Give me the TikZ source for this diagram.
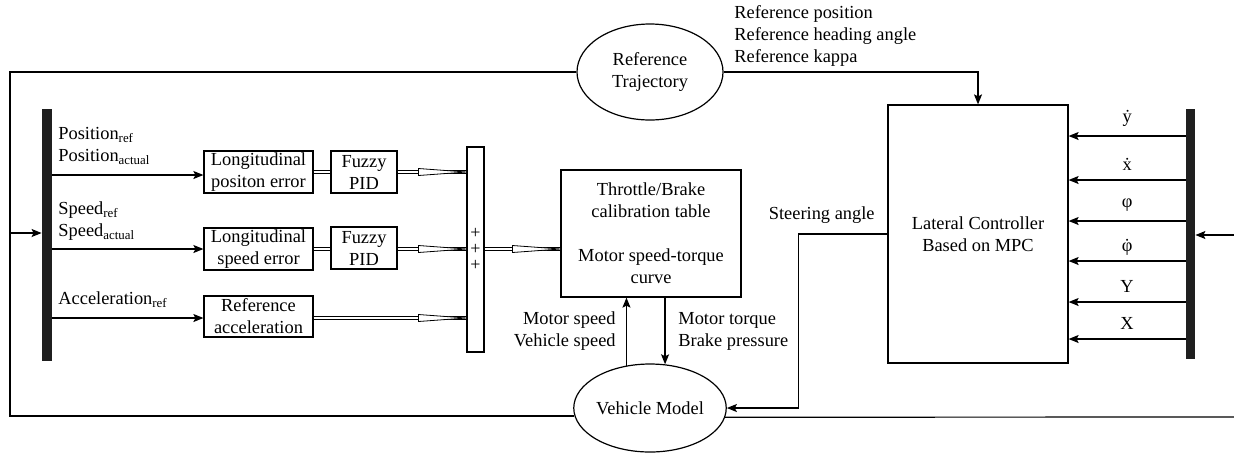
\documentclass[tikz,border=0pt]{standalone}
\usepackage{fontspec}
\setmainfont{Liberation Serif}
\usetikzlibrary{shapes.geometric,arrows.meta,calc}
\newcommand{\dotphi}{\ooalign{φ\cr\hidewidth˙\hidewidth\cr}}
\begin{document}
\begin{tikzpicture}[x=0.5pt,y=-0.5pt,
    every node/.style={font=\fontsize{9.2}{11}\selectfont},
    ln/.style={line width=0.6pt},
    arr/.style={ln,-{Stealth[length=5pt,width=4pt,inset=1pt]}},
    dbl/.style={line width=0.4pt,double,double distance=1.1pt},
    blk/.style={draw,line width=0.6pt,align=center,inner sep=0.5pt},
    oval/.style={draw,ellipse,line width=0.6pt,align=center,inner sep=0pt},
    bar/.style={fill=black!88,inner sep=0pt},
    lbl/.style={inner sep=0pt},
    optip/.pic={\draw[line width=0.4pt,fill=white] (0,0) -- (-48,3.5) -- (-48,-3.5) -- cycle;}]
    \useasboundingbox (0,0) rectangle (1234,462);
    \node[bar,minimum width=5pt,minimum height=126pt] (lbar) at (47,235) {};
    \node[bar,minimum width=4.5pt,minimum height=125pt] (rbar) at (1190.5,234) {};
    \node[blk,minimum width=54.5pt,minimum height=21pt] (lerrpos) at (258.5,172) {Longitudinal\\positon error};
    \node[blk,minimum width=54.5pt,minimum height=21pt] (lerrspd) at (258.5,249) {Longitudinal\\speed error};
    \node[blk,minimum width=54.5pt,minimum height=20.5pt] (refacc) at (258.5,316.5) {Reference\\acceleration};
    \node[blk,minimum width=33pt,minimum height=21pt] (pidpos) at (364,172) {Fuzzy\\PID};
    \node[blk,minimum width=33pt,minimum height=21pt] (pidspd) at (364,248) {Fuzzy\\PID};
    \node[blk,minimum width=8.5pt,minimum height=102.5pt,
        font=\fontsize{9}{8}\selectfont] (sum) at (475.5,249.5) {+\\+\\+};
    \node[blk,minimum width=90pt,minimum height=63.5pt] (thr) at (651,233.5)
        {Throttle/Brake\\calibration table\\[11pt]Motor speed-torque\\curve};
    \node[blk,minimum width=90pt,minimum height=129pt] (lat) at (978,234) {Lateral Controller\\Based on MPC};
    \node[oval,minimum width=73pt,minimum height=48pt] (reftraj) at (650,72) {Reference\\Trajectory};
    \node[oval,minimum width=73pt,minimum height=44pt] (veh) at (650,408) {Vehicle Model};
    \node[lbl,anchor=west,align=left] (posin) at (58,146)
        {Position\textsubscript{ref}\\Position\textsubscript{actual}};
    \node[lbl,anchor=west,align=left] (spdin) at (58,221)
        {Speed\textsubscript{ref}\\Speed\textsubscript{actual}};
    \node[lbl,anchor=west,align=left] (accin) at (58,300) {Acceleration\textsubscript{ref}};
    \node[lbl,anchor=west,align=left] (refout) at (734,36)
        {Reference position\\Reference heading angle\\Reference kappa};
    \node[lbl,anchor=east,align=right] (spdout) at (616,331) {Motor speed\\Vehicle speed};
    \node[lbl,anchor=west,align=left] (trqout) at (678,331) {Motor torque\\Brake pressure};
    \node[lbl,anchor=east] (steer) at (875,215) {Steering angle};
    \coordinate (loopl) at (10,233);
    \coordinate (loopr) at (1234,235);
    \coordinate (loopo) at (1234,417);
    \draw[ln] (reftraj.west) -| (loopl);
    \draw[ln] (veh.186) -| (loopl);
    \draw[arr] (loopl) -- (loopl -| lbar.west);
    \draw[arr] (lbar.east |- 0,175) -- (lerrpos.west |- 0,175);
    \draw[arr] (lbar.east |- lerrspd) -- (lerrspd.west);
    \draw[arr] (lbar.east |- 0,318) -- (refacc.west |- 0,318);
    \draw[dbl] (lerrpos) -- (pidpos);
    \draw[dbl] (lerrspd.east) -- (lerrspd.east -| pidspd.west);
    \draw[dbl] (pidpos.east) -- (pidpos.east -| sum.west);
    \draw[dbl] (lerrspd.east -| pidspd.east) -- (lerrspd.east -| sum.west);
    \draw[dbl] (refacc.east |- 0,318) -- (sum.west |- 0,318);
    \draw[dbl] (sum.east |- 0,249) -- (thr.west |- 0,249);
    \pic at (pidpos.east -| sum.west) {optip};
    \pic at (lerrspd.east -| sum.west) {optip};
    \pic at (sum.west |- 0,318) {optip};
    \pic at (thr.west |- 0,249) {optip};
    \draw[arr] (veh.119) -- (veh.119 |- thr.south);
    \draw[arr] (thr.south -| veh.71) -- (veh.71);
    \draw[arr] (reftraj.east) -| (lat.north);
    \draw[arr] (lat.west) -- ++(-89,0) |- (veh.east);
    \draw[ln] (veh.-7) -- (loopo);
    \draw[arr] (loopr) -- (rbar.east |- loopr);
    \foreach \yy/\sig in {136/\.{y},180/\.{x},221/φ,261/\dotphi,302/Y,339/X}{
        \draw[arr] (rbar.west |- 0,\yy) -- (lat.east |- 0,\yy) node[midway,above=1pt] {\sig};
    }
\end{tikzpicture}
\end{document}
